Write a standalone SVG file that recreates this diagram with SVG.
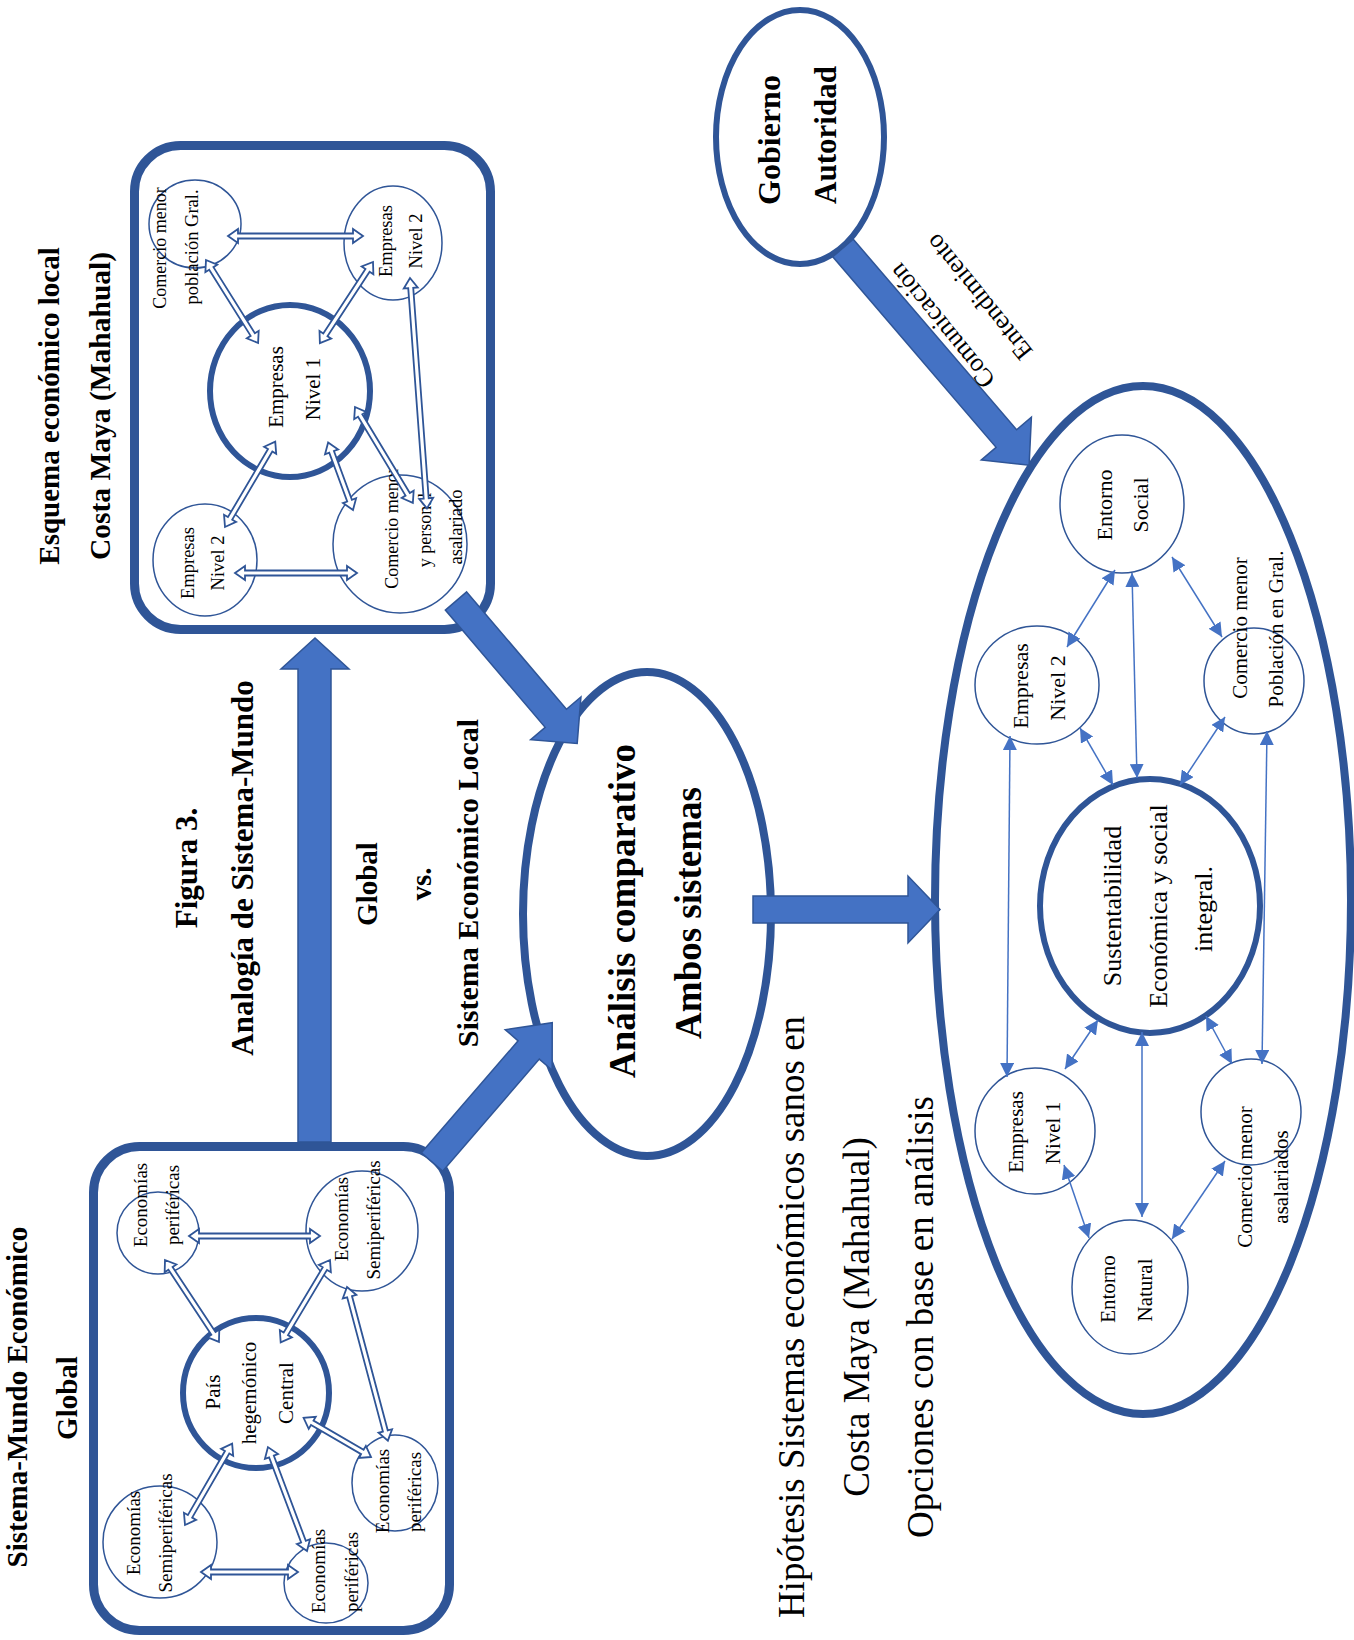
<svg xmlns="http://www.w3.org/2000/svg" width="1354" height="1640" viewBox="0 0 1354 1640">
<style>
.box{fill:none;stroke:#2F5597;stroke-width:9}
.thick{fill:none;stroke:#2F5597;stroke-width:6}
.big{fill:none;stroke:#2F5597;stroke-width:8}
.thin{fill:none;stroke:#2F5597;stroke-width:1.5}
.dbl{fill:#fff;stroke:#2F5597;stroke-width:1.8;stroke-linejoin:miter}
.blk{fill:#4472C4;stroke:#2F5597;stroke-width:1.5}
.ln{fill:none;stroke:#4472C4;stroke-width:1.5;marker-start:url(#ah);marker-end:url(#ah)}
text{font-family:"Liberation Serif","Times New Roman",serif;fill:#000;text-anchor:middle;dominant-baseline:central}
.b{font-weight:bold}
</style>
<defs>
<marker id="ah" viewBox="0 0 14 14" refX="14" refY="7" markerWidth="14" markerHeight="14" markerUnits="userSpaceOnUse" orient="auto-start-reverse">
<path d="M0,0 L14,7 L0,14 Z" fill="#4472C4"/>
</marker>
</defs>
<rect width="1354" height="1640" fill="#fff"/>

<g id="titles">
<text class="b" font-size="29" transform="translate(48.5,406) rotate(-90)">Esquema económico local</text>
<text class="b" font-size="29.5" transform="translate(99.5,406) rotate(-90)">Costa Maya (Mahahual)</text>
<text class="b" font-size="31" transform="translate(186,868) rotate(-90)">Figura 3.</text>
<text class="b" font-size="31" transform="translate(242,868) rotate(-90)">Analogía de Sistema-Mundo</text>
<text class="b" font-size="29" transform="translate(366.5,884) rotate(-90)">Global</text>
<text class="b" font-size="29" transform="translate(421,884) rotate(-90)">vs.</text>
<text class="b" font-size="30" transform="translate(467.5,883) rotate(-90)">Sistema Económico Local</text>
<text class="b" font-size="29" transform="translate(16.5,1397) rotate(-90)">Sistema-Mundo Económico</text>
<text class="b" font-size="29" transform="translate(66.5,1398) rotate(-90)">Global</text>
</g>

<g id="hipotesis">
<text font-size="37" transform="translate(791,1317) rotate(-90)">Hipótesis Sistemas económicos sanos en</text>
<text font-size="37" transform="translate(856,1317) rotate(-90)">Costa Maya (Mahahual)</text>
<text font-size="37" transform="translate(920,1317) rotate(-90)">Opciones con base en análisis</text>
</g>

<g id="esquema-local">
<rect class="box" x="134.5" y="145.5" width="356" height="484" rx="46"/>
<g id="local-empresas-n1">
<ellipse class="thick" cx="290" cy="391" rx="80" ry="86"/>
<text font-size="21" transform="translate(275.5,387) rotate(-90)">Empresas</text>
<text font-size="21" transform="translate(312.5,389) rotate(-90)">Nivel 1</text>
</g>
<g id="local-comercio-pob">
<ellipse class="thin" cx="195" cy="224" rx="46" ry="44"/>
<text font-size="18" transform="translate(160,248) rotate(-90)">Comercio menor</text>
<text font-size="18.5" transform="translate(192,247) rotate(-90)">población Gral.</text>
</g>
<g id="local-empresas-n2a">
<ellipse class="thin" cx="393" cy="243" rx="49" ry="57"/>
<text font-size="18.5" transform="translate(386,241) rotate(-90)">Empresas</text>
<text font-size="18.5" transform="translate(416,241) rotate(-90)">Nivel 2</text>
</g>
<g id="local-empresas-n2b">
<ellipse class="thin" cx="205" cy="560" rx="52" ry="56"/>
<text font-size="18.5" transform="translate(188,563) rotate(-90)">Empresas</text>
<text font-size="18.5" transform="translate(218,563) rotate(-90)">Nivel 2</text>
</g>
<g id="local-comercio-asal">
<ellipse class="thin" cx="400" cy="544" rx="67" ry="69"/>
<text font-size="18" transform="translate(392,528) rotate(-90)">Comercio menor</text>
<text font-size="18" transform="translate(425,530) rotate(-90)">y personal</text>
<text font-size="18.5" transform="translate(456,527) rotate(-90)">asalariado</text>
</g>
</g>

<g id="sistema-global">
<rect class="box" x="93.5" y="1146.5" width="356" height="484" rx="46"/>
<g id="global-central">
<ellipse class="thick" cx="256" cy="1393" rx="73" ry="75"/>
<text font-size="21" transform="translate(212.5,1392) rotate(-90)">País</text>
<text font-size="21" transform="translate(248.5,1393) rotate(-90)">hegemónico</text>
<text font-size="21" transform="translate(285.5,1393) rotate(-90)">Central</text>
</g>
<g id="global-perif-1">
<ellipse class="thin" cx="158" cy="1233" rx="41" ry="41"/>
<text font-size="19" transform="translate(140,1205) rotate(-90)">Economías</text>
<text font-size="19" transform="translate(172,1205) rotate(-90)">periféricas</text>
</g>
<g id="global-semi-1">
<ellipse class="thin" cx="362" cy="1231" rx="56" ry="60"/>
<text font-size="19" transform="translate(341,1219) rotate(-90)">Economías</text>
<text font-size="19" transform="translate(373,1220) rotate(-90)">Semiperiféricas</text>
</g>
<g id="global-perif-2">
<ellipse class="thin" cx="395" cy="1483" rx="43" ry="48"/>
<text font-size="19" transform="translate(382,1491) rotate(-90)">Economías</text>
<text font-size="19" transform="translate(414,1492) rotate(-90)">periféricas</text>
</g>
<g id="global-semi-2">
<ellipse class="thin" cx="160" cy="1542" rx="57" ry="56"/>
<text font-size="19" transform="translate(133,1533) rotate(-90)">Economías</text>
<text font-size="19" transform="translate(165,1533) rotate(-90)">Semiperiféricas</text>
</g>
<g id="global-perif-3">
<ellipse class="thin" cx="326" cy="1583" rx="42" ry="40"/>
<text font-size="19" transform="translate(318,1571) rotate(-90)">Economías</text>
<text font-size="19" transform="translate(351,1572) rotate(-90)">periféricas</text>
</g>
</g>

<g id="analisis">
<ellipse class="big" cx="647" cy="914" rx="124" ry="242"/>
<text class="b" font-size="37" transform="translate(622,911) rotate(-90)">Análisis comparativo</text>
<text class="b" font-size="37" transform="translate(688,913) rotate(-90)">Ambos sistemas</text>
</g>

<g id="gobierno">
<ellipse class="thick" cx="800" cy="137" rx="84" ry="127"/>
<text class="b" font-size="32" transform="translate(769,140) rotate(-90)">Gobierno</text>
<text class="b" font-size="31" transform="translate(825,135) rotate(-90)">Autoridad</text>
</g>

<g id="opciones">
<ellipse class="big" cx="1143" cy="900" rx="208" ry="514"/>
<g id="opc-sustentabilidad">
<ellipse class="thick" cx="1150" cy="906" rx="110" ry="127"/>
<text font-size="26" transform="translate(1112,906) rotate(-90)">Sustentabilidad</text>
<text font-size="26" transform="translate(1158,906) rotate(-90)">Económica y social</text>
<text font-size="26" transform="translate(1203,909) rotate(-90)">integral.</text>
</g>
<g id="opc-entorno-social">
<ellipse class="thin" cx="1122" cy="504" rx="62" ry="69"/>
<text font-size="22" transform="translate(1104.5,505) rotate(-90)">Entorno</text>
<text font-size="22" transform="translate(1140.5,505) rotate(-90)">Social</text>
</g>
<g id="opc-empresas-n2">
<ellipse class="thin" cx="1037" cy="685" rx="62" ry="59"/>
<text font-size="22" transform="translate(1020.5,686) rotate(-90)">Empresas</text>
<text font-size="22" transform="translate(1057.5,688) rotate(-90)">Nivel 2</text>
</g>
<g id="opc-comercio-pob">
<ellipse class="thin" cx="1254" cy="681" rx="50" ry="53"/>
<text font-size="21" transform="translate(1239.5,628) rotate(-90)">Comercio menor</text>
<text font-size="21" transform="translate(1275.5,629) rotate(-90)">Población en Gral.</text>
</g>
<g id="opc-empresas-n1">
<ellipse class="thin" cx="1035" cy="1131" rx="60" ry="63"/>
<text font-size="21" transform="translate(1015.5,1132) rotate(-90)">Empresas</text>
<text font-size="21" transform="translate(1052.5,1133) rotate(-90)">Nivel 1</text>
</g>
<g id="opc-comercio-asal">
<ellipse class="thin" cx="1251" cy="1112" rx="50" ry="53"/>
<text font-size="21" transform="translate(1244.5,1177) rotate(-90)">Comercio menor</text>
<text font-size="21" transform="translate(1280.5,1177) rotate(-90)">asalariados</text>
</g>
<g id="opc-entorno-natural">
<ellipse class="thin" cx="1130" cy="1287" rx="58" ry="67"/>
<text font-size="21" transform="translate(1107.5,1289) rotate(-90)">Entorno</text>
<text font-size="21" transform="translate(1144.5,1290) rotate(-90)">Natural</text>
</g>
</g>

<g id="connectors">
<!-- local double arrows -->
<path class="dbl" transform="translate(228,236)" d="M0,0 L10,-7 L10,-2.5 L125,-2.5 L125,-7 L135,0 L125,7 L125,2.5 L10,2.5 L10,7 Z"/>
<path class="dbl" transform="translate(206,260) rotate(57.9)" d="M0,0 L10,-7 L10,-2.5 L88,-2.5 L88,-7 L98,0 L88,7 L88,2.5 L10,2.5 L10,7 Z"/>
<path class="dbl" transform="translate(373,262) rotate(123.2)" d="M0,0 L10,-7 L10,-2.5 L87,-2.5 L87,-7 L97,0 L87,7 L87,2.5 L10,2.5 L10,7 Z"/>
<path class="dbl" transform="translate(225,527) rotate(-59.5)" d="M0,0 L10,-7 L10,-2.5 L89,-2.5 L89,-7 L99,0 L89,7 L89,2.5 L10,2.5 L10,7 Z"/>
<path class="dbl" transform="translate(353,510) rotate(-110.2)" d="M0,0 L10,-7 L10,-2.5 L62,-2.5 L62,-7 L72,0 L62,7 L62,2.5 L10,2.5 L10,7 Z"/>
<path class="dbl" transform="translate(355,407) rotate(58.9)" d="M0,0 L10,-7 L10,-2.5 L102,-2.5 L102,-7 L112,0 L102,7 L102,2.5 L10,2.5 L10,7 Z"/>
<path class="dbl" transform="translate(410,278) rotate(85.8)" d="M0,0 L10,-7 L10,-2.5 L221,-2.5 L221,-7 L231,0 L221,7 L221,2.5 L10,2.5 L10,7 Z"/>
<path class="dbl" transform="translate(235,573)" d="M0,0 L10,-7 L10,-2.5 L112,-2.5 L112,-7 L122,0 L112,7 L112,2.5 L10,2.5 L10,7 Z"/>
<!-- global double arrows -->
<path class="dbl" transform="translate(189,1236)" d="M0,0 L10,-7 L10,-2.5 L121,-2.5 L121,-7 L131,0 L121,7 L121,2.5 L10,2.5 L10,7 Z"/>
<path class="dbl" transform="translate(165,1260) rotate(56.6)" d="M0,0 L10,-7 L10,-2.5 L88,-2.5 L88,-7 L98,0 L88,7 L88,2.5 L10,2.5 L10,7 Z"/>
<path class="dbl" transform="translate(330,1260) rotate(120.9)" d="M0,0 L10,-7 L10,-2.5 L86,-2.5 L86,-7 L96,0 L86,7 L86,2.5 L10,2.5 L10,7 Z"/>
<path class="dbl" transform="translate(347,1287) rotate(75.1)" d="M0,0 L10,-7 L10,-2.5 L149,-2.5 L149,-7 L159,0 L149,7 L149,2.5 L10,2.5 L10,7 Z"/>
<path class="dbl" transform="translate(371,1457) rotate(210.2)" d="M0,0 L10,-7 L10,-2.5 L68,-2.5 L68,-7 L78,0 L68,7 L68,2.5 L10,2.5 L10,7 Z"/>
<path class="dbl" transform="translate(307,1551) rotate(249.4)" d="M0,0 L10,-7 L10,-2.5 L101,-2.5 L101,-7 L111,0 L101,7 L101,2.5 L10,2.5 L10,7 Z"/>
<path class="dbl" transform="translate(185,1525) rotate(-59.9)" d="M0,0 L10,-7 L10,-2.5 L84,-2.5 L84,-7 L94,0 L84,7 L84,2.5 L10,2.5 L10,7 Z"/>
<path class="dbl" transform="translate(201,1572)" d="M0,0 L10,-7 L10,-2.5 L87,-2.5 L87,-7 L97,0 L87,7 L87,2.5 L10,2.5 L10,7 Z"/>
<!-- block arrows -->
<polygon class="blk" points="298,1142 298,669 281,669 315,638 349,669 331,669 331,1142"/>
<path class="blk" transform="translate(456,601) rotate(49.6)" d="M0,-14 L154,-14 L154,-33 L187,0 L154,33 L154,14 L0,14 Z"/>
<path class="blk" transform="translate(432,1162) rotate(-49.2)" d="M0,-14 L148,-14 L148,-31 L184,0 L148,31 L148,14 L0,14 Z"/>
<polygon class="blk" points="753,896 908,896 908,876 940,909.5 908,943 908,923 753,923"/>
<path class="blk" transform="translate(843,248) rotate(49.4)" d="M0,-13.5 L251,-13.5 L251,-33 L286,0 L251,33 L251,13.5 L0,13.5 Z"/>
<!-- thin arrows in options -->
<line class="ln" x1="1115" y1="570" x2="1067" y2="647"/>
<line class="ln" x1="1132" y1="573" x2="1137" y2="778"/>
<line class="ln" x1="1172" y1="557" x2="1222" y2="637"/>
<line class="ln" x1="1080" y1="728" x2="1113" y2="785"/>
<line class="ln" x1="1225" y1="717" x2="1180" y2="785"/>
<line class="ln" x1="1010" y1="736" x2="1007" y2="1077"/>
<line class="ln" x1="1267" y1="731" x2="1262" y2="1064"/>
<line class="ln" x1="1098" y1="1020" x2="1065" y2="1069"/>
<line class="ln" x1="1142" y1="1032" x2="1142" y2="1217"/>
<line class="ln" x1="1206" y1="1016" x2="1232" y2="1064"/>
<line class="ln" x1="1064" y1="1165" x2="1089" y2="1238"/>
<line class="ln" x1="1225" y1="1161" x2="1172" y2="1239"/>
</g>

<g id="labels">
<text font-size="26" transform="translate(942,326) rotate(231)">Comunicación</text>
<text font-size="26" transform="translate(979,297) rotate(231)">Entendimiento</text>
</g>
</svg>
